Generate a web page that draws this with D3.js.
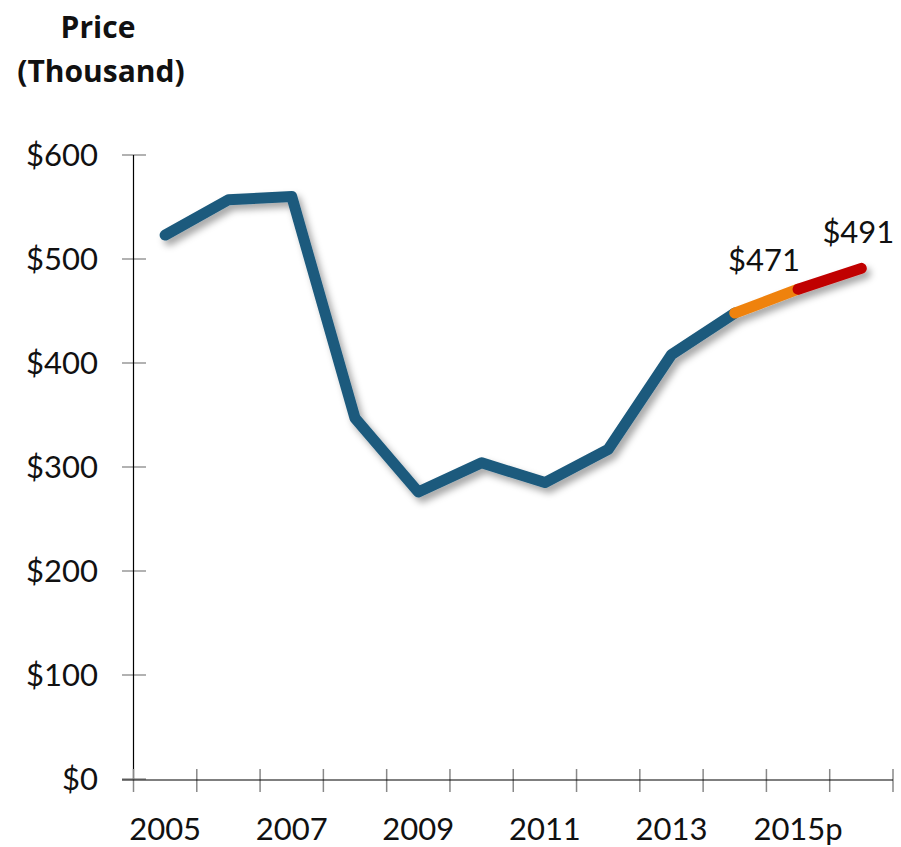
<!DOCTYPE html>
<html>
<head>
<meta charset="utf-8">
<script src="https://cdn.jsdelivr.net/npm/d3@7"></script>
<style>
  body { margin: 0; background: #fff; }
  svg text { font-family: Lato, "Open Sans", sans-serif; fill: #111; }
  .title { font-family: "Open Sans", sans-serif; font-weight: bold; font-size: 30px; }
</style>
</head>
<body>
<svg id="chart" width="901" height="847"></svg>
<script>
var years = ["2005", "2006", "2007", "2008", "2009", "2010", "2011", "2012", "2013", "2014", "2015p", "2016p"];
var prices = [523, 557, 560, 347, 276, 304, 285, 317, 408, 448, 471, 491];
var yTicks = [0, 100, 200, 300, 400, 500, 600];
var shownYears = ["2005", "2007", "2009", "2011", "2013", "2015p"];
var calloutYears = ["2015p", "2016p"];
var calloutValues = [471, 491];

var svg = d3.select("#chart");

var x = d3.scaleBand().domain(years).range([133.5, 893]);
var y = d3.scaleLinear().domain([0, 600]).range([779, 155]);

var defs = svg.append("defs");
defs.append("filter")
    .attr("id", "shadow")
    .attr("x", "-10%").attr("y", "-10%")
    .attr("width", "130%").attr("height", "130%")
    .append("feDropShadow")
    .attr("dx", 4).attr("dy", 5)
    .attr("stdDeviation", 3.5)
    .attr("flood-color", "#000")
    .attr("flood-opacity", 0.35);

// title
svg.append("text").attr("class", "title")
    .attr("x", 98).attr("y", 38).attr("text-anchor", "middle").text("Price");
svg.append("text").attr("class", "title")
    .attr("x", 101).attr("y", 82).attr("text-anchor", "middle").text("(Thousand)");

// y axis
var yAxis = svg.append("g");
yAxis.selectAll("line.tick")
    .data(yTicks)
    .enter()
    .append("line")
    .attr("x1", 122).attr("x2", 146)
    .attr("y1", (d) => y(d)).attr("y2", (d) => y(d))
    .style("stroke", "#999").style("stroke-width", 1.5);
yAxis.append("line")
    .attr("x1", 133.5).attr("x2", 133.5)
    .attr("y1", y(600)).attr("y2", y(0))
    .style("stroke", "#000").style("stroke-width", 1.2);
yAxis.selectAll("text")
    .data(yTicks)
    .enter()
    .append("text")
    .attr("x", 98).attr("y", (d) => y(d) + 11)
    .attr("text-anchor", "end")
    .attr("font-size", "31px")
    .text((d) => "$" + d);

// x axis
var xAxis = svg.append("g");
var bounds = years.map((d) => x(d)).concat([x.range()[1]]);
xAxis.selectAll("line.tick")
    .data(bounds)
    .enter()
    .append("line")
    .attr("x1", (d) => d).attr("x2", (d) => d)
    .attr("y1", 769).attr("y2", 792)
    .style("stroke", "#888").style("stroke-width", 1.5);
xAxis.append("line")
    .attr("x1", 122).attr("x2", 893)
    .attr("y1", 780).attr("y2", 780)
    .style("stroke", "#000").style("stroke-width", 1.2);
xAxis.selectAll("text")
    .data(shownYears)
    .enter()
    .append("text")
    .attr("x", (d) => x(d) + x.bandwidth() / 2)
    .attr("y", 840)
    .attr("text-anchor", "middle")
    .attr("font-size", "31px")
    .text((d) => d);

// line segments
var pts = years.map((d, i) => [x(d) + x.bandwidth() / 2, y(prices[i])]);
var line = d3.line();
var segments = [
    { pts: pts.slice(0, 10), color: "#1c5a7d" },
    { pts: pts.slice(9, 11), color: "#ef8210" },
    { pts: pts.slice(10, 12), color: "#c00000" }
];
var lines = svg.append("g").attr("filter", "url(#shadow)");
lines.selectAll("path")
    .data(segments)
    .enter()
    .append("path")
    .attr("d", (d) => line(d.pts))
    .style("fill", "none")
    .style("stroke", (d) => d.color)
    .style("stroke-width", 11)
    .style("stroke-linejoin", "round")
    .style("stroke-linecap", "round");

// callouts
var calloutDx = [-34, -3];
var calloutDy = [-18, -25];
svg.selectAll("text.callout")
    .data(calloutYears)
    .enter()
    .append("text")
    .attr("class", "callout")
    .attr("x", (d, i) => x(d) + x.bandwidth() / 2 + calloutDx[i])
    .attr("y", (d, i) => y(calloutValues[i]) + calloutDy[i])
    .attr("text-anchor", "middle")
    .attr("font-size", "31px")
    .text((d, i) => "$" + calloutValues[i]);
</script>
</body>
</html>
